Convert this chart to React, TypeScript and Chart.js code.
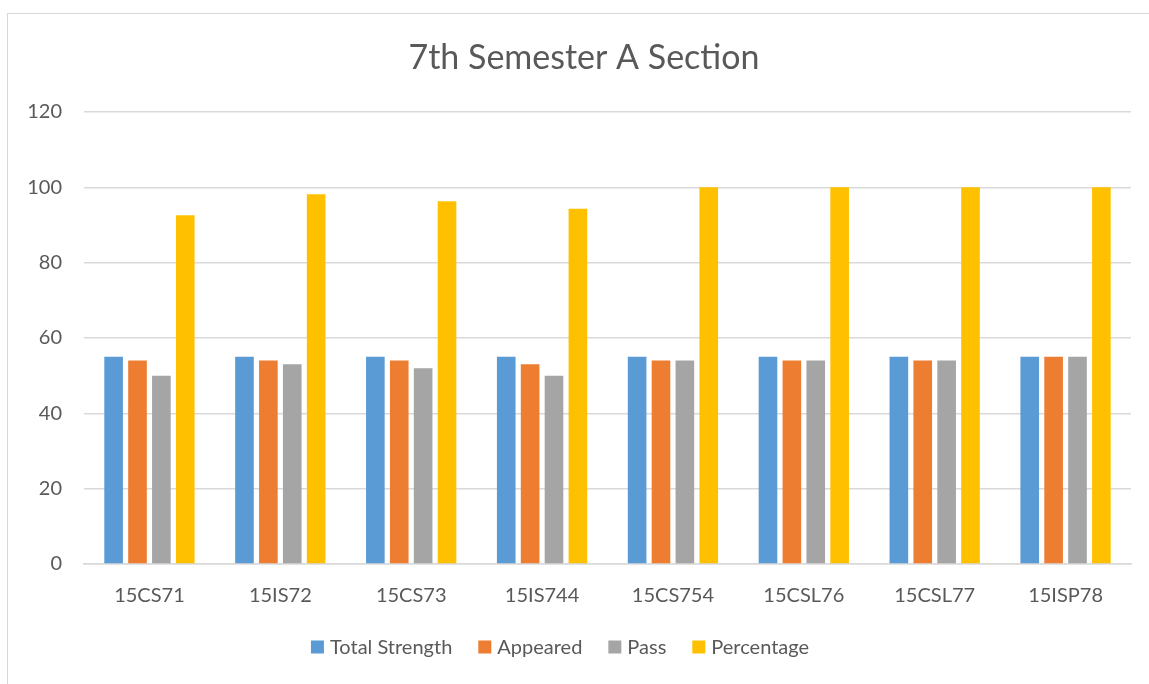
import React, { useEffect, useRef } from "react";
import { Chart, registerables } from "chart.js";

Chart.register(...registerables);

const chartTitle = "7th Semester A Section";
const categories = ["15CS71", "15IS72", "15CS73", "15IS744", "15CS754", "15CSL76", "15CSL77", "15ISP78"];
const seriesNames = ["Total Strength", "Appeared", "Pass", "Percentage"];
const seriesColors = ["#5B9BD5", "#ED7D31", "#A5A5A5", "#FFC000"];
const totalStrength = [55, 55, 55, 55, 55, 55, 55, 55];
const appeared = [54, 54, 54, 53, 54, 54, 54, 55];
const pass = [50, 53, 52, 50, 54, 54, 54, 55];
const percentage = [92.59, 98.15, 96.3, 94.34, 100, 100, 100, 100];

const FONT = "Lato, 'Open Sans', sans-serif";
const TEXT = "#595959";
const GRID = "#d9d9d9";

const titleAndLegend = {
  id: "titleAndLegend",
  afterDraw(chart: any) {
    const ctx = chart.ctx as CanvasRenderingContext2D;
    ctx.save();
    ctx.fillStyle = TEXT;
    ctx.font = `34px ${FONT}`;
    ctx.textAlign = "center";
    ctx.textBaseline = "middle";
    ctx.fillText(chartTitle, 584, 58);

    ctx.font = `20px ${FONT}`;
    ctx.textAlign = "left";
    const box = 13;
    const gap = 6;
    const itemGap = 26;
    const widths = seriesNames.map((n) => ctx.measureText(n).width);
    const total = widths.reduce((a, w) => a + box + gap + w, 0) + itemGap * (seriesNames.length - 1);
    let x = 560 - total / 2;
    const cy = 647;
    seriesNames.forEach((n, i) => {
      ctx.fillStyle = seriesColors[i];
      ctx.fillRect(x, cy - box / 2, box, box);
      ctx.fillStyle = TEXT;
      ctx.fillText(n, x + box + gap, cy + 1);
      x += box + gap + widths[i] + itemGap;
    });
    ctx.restore();
  },
};

export default function App() {
  const ref = useRef<HTMLCanvasElement | null>(null);

  useEffect(() => {
    if (!ref.current) return;
    const values = [totalStrength, appeared, pass, percentage];
    const chart = new Chart(ref.current, {
      type: "bar",
      data: {
        labels: categories,
        datasets: seriesNames.map((name, i) => ({
          label: name,
          data: values[i],
          backgroundColor: seriesColors[i],
          borderWidth: 0,
          barPercentage: 0.78,
          categoryPercentage: 0.73,
        })),
      },
      options: {
        animation: false,
        responsive: false,
        maintainAspectRatio: false,
        layout: { padding: { left: 0, right: 18, top: 112, bottom: 56 } },
        plugins: {
          title: { display: false },
          legend: { display: false },
          tooltip: { enabled: false },
        },
        scales: {
          x: {
            grid: { display: false, drawTicks: false },
            border: { display: true, color: GRID, width: 1.5 },
            ticks: { color: TEXT, font: { family: FONT, size: 20 }, padding: 20, maxRotation: 0 },
          },
          y: {
            min: 0,
            max: 120,
            grid: { color: GRID, lineWidth: 1.5, drawTicks: false },
            border: { display: false },
            ticks: { stepSize: 20, color: TEXT, font: { family: FONT, size: 20 }, padding: 22 },
            afterFit: (s: any) => {
              s.width = 84;
            },
          },
        },
      },
      plugins: [titleAndLegend],
    });
    return () => chart.destroy();
  }, []);

  return (
    <div style={{ position: "fixed", left: 0, top: 0, width: 1149, height: 684, overflow: "hidden", background: "#fff" }}>
      <div
        style={{
          position: "absolute",
          left: 7,
          top: 13,
          width: 1200,
          height: 800,
          border: "1.5px solid #d9d9d9",
          boxSizing: "border-box",
        }}
      />
      <canvas ref={ref} width={1149} height={684} style={{ position: "absolute", left: 0, top: 0 }} />
    </div>
  );
}
